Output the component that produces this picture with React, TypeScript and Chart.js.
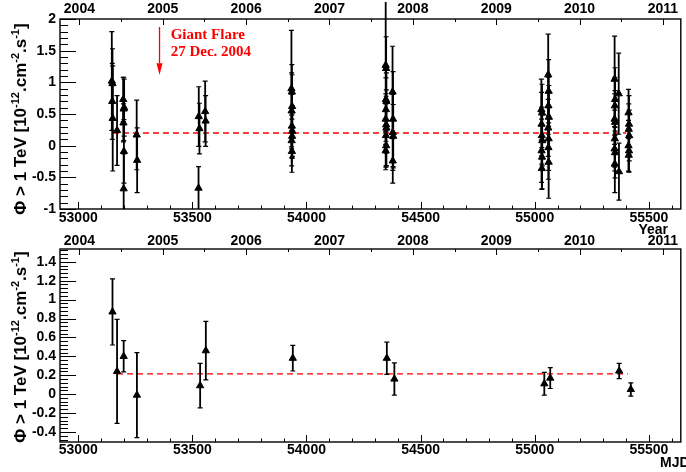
import React, { useEffect, useRef } from "react";
import { Chart, registerables } from "chart.js";

Chart.register(...registerables);

const SANS = '"Liberation Sans", Arial, Helvetica, sans-serif';
const SERIF = '"Liberation Serif", "Times New Roman", serif';

// ---------- upper panel: run-by-run flux ----------
const runMJD = [
  53147, 53150, 53149, 53151,
  53170,
  53197, 53199, 53201, 53198, 53200, 53199,
  53256, 53258,
  53528, 53531, 53527,
  53556, 53558,
  53934, 53936, 53937, 53935, 53936, 53938, 53937, 53935, 53936,
  54347, 54349, 54348, 54350, 54348, 54347, 54349, 54350, 54348, 54349, 54347,
  54377, 54379, 54378, 54380, 54378,
  55029, 55032, 55030, 55031, 55033, 55030, 55032, 55031,
  55059, 55061, 55060, 55062, 55059, 55061, 55060, 55061,
  55350, 55352, 55351, 55350, 55352, 55351, 55350, 55352, 55351,
  55368, 55369,
  55411, 55413, 55412, 55414, 55411, 55413, 55412,
];
const runFlux = [
  1.02, 0.98, 0.70, 0.43,
  0.24,
  0.73, 0.58, 0.60, 0.36, -0.09, -0.68,
  0.17, -0.23,
  0.46, 0.27, -0.67,
  0.54, 0.39,
  0.90, 0.85, 0.62, 0.55, 0.31, 0.23, 0.15, 0.08, -0.09,
  1.27, 1.22, 0.73, 0.70, 0.57, 0.42, 0.33, 0.28, 0.16, 0.0, -0.08,
  0.85, 0.42, 0.21, 0.15, -0.24,
  0.57, 0.52, 0.34, 0.16, 0.08, -0.08, -0.18, -0.36,
  1.12, 0.86, 0.63, 0.45, 0.28, 0.11, -0.03, -0.26,
  1.05, 0.73, 0.63, 0.42, 0.37, 0.11, -0.05, -0.11, -0.29,
  0.82, -0.41,
  0.52, 0.34, 0.26, 0.16, 0.0, -0.08, -0.15,
];
const runErr = [
  0.78, 0.55, 0.60, 0.83,
  0.55,
  0.35, 0.50, 0.45, 0.30, 0.50, 0.55,
  0.55, 0.51,
  0.47, 0.40, 0.34,
  0.48, 0.40,
  0.92, 0.43, 0.50, 0.60, 0.50, 0.40, 0.35, 0.40, 0.33,
  1.00, 0.50, 0.50, 0.45, 0.50, 0.40, 0.45, 0.60, 0.50, 0.32, 0.30,
  0.72, 0.75, 0.60, 0.50, 0.35,
  0.48, 0.45, 0.50, 0.45, 0.40, 0.50, 0.50, 0.33,
  0.64, 0.50, 0.45, 0.50, 0.45, 0.50, 0.50, 0.57,
  0.68, 0.50, 0.45, 0.40, 0.50, 0.45, 0.35, 0.40, 0.45,
  0.64, 0.45,
  0.37, 0.45, 0.40, 0.40, 0.40, 0.34, 0.26,
];

// ---------- lower panel: period-averaged flux ----------
const periodMJD = [53150, 53170, 53199, 53257, 53534, 53559, 53940, 54352, 54385, 55042, 55068, 55370, 55421];
const periodFlux = [0.87, 0.24, 0.40, -0.01, 0.09, 0.46, 0.38, 0.38, 0.16, 0.11, 0.17, 0.245, 0.05];
const periodErr = [0.35, 0.55, 0.165, 0.45, 0.235, 0.31, 0.135, 0.17, 0.17, 0.12, 0.11, 0.08, 0.07];

// mean flux levels (dashed red lines)
const runMean = 0.2;
const runMeanSpan = [53152, 55401];
const periodMean = 0.215;
const periodMeanSpan = [53170, 55408];

// axes
const mjdMin = 52920;
const mjdMax = 55640;
const mjdLabelStep = 500;
const mjdMinorStep = 100;
const mjdOf2004 = 53005;
const daysPerYear = 365.25;
const yearOf = (mjd: number) => 2004 + (mjd - mjdOf2004) / daysPerYear;

// annotation
const flareArrowMJD = 53356;
const flareTextMJD = 53405;
const flareArrowTop = 1.874;
const flareArrowHead = 1.3;
const flareArrowTip = 1.116;
const flareTextY = [1.747, 1.484];
const flareLines = ["Giant Flare", "27 Dec. 2004"];

const yTitleParts: [string, boolean][] = [
  ["Φ > 1 TeV [10", false],
  ["-12", true],
  [".cm", false],
  ["-2", true],
  [".s", false],
  ["-1", true],
  ["]", false],
];

function drawTicks(ctx: any, scale: any, a: any, major: number, minor: number, majLen: number, minLen: number, side: string) {
  const start = Math.ceil((scale.min - 1e-9) / minor);
  const end = Math.floor((scale.max + 1e-9) / minor);
  for (let k = start; k <= end; k++) {
    const v = k * minor;
    const isMajor = Math.abs(v / major - Math.round(v / major)) < 1e-6;
    const len = isMajor ? majLen : minLen;
    const p = Math.round(scale.getPixelForValue(v)) + 0.5;
    ctx.beginPath();
    if (side === "left") {
      ctx.moveTo(a.left, p);
      ctx.lineTo(a.left + len, p);
    } else if (side === "bottom") {
      ctx.moveTo(p, a.bottom);
      ctx.lineTo(p, a.bottom - len);
    } else {
      ctx.moveTo(p, a.top);
      ctx.lineTo(p, a.top + len);
    }
    ctx.stroke();
  }
}

function drawYTitle(ctx: any, cx: number, cy: number) {
  ctx.save();
  ctx.translate(cx, cy);
  ctx.rotate(-Math.PI / 2);
  const big = `bold 17px ${SANS}`;
  const small = `bold 11px ${SANS}`;
  let total = 0;
  for (const [t, sup] of yTitleParts) {
    ctx.font = sup ? small : big;
    total += ctx.measureText(t).width;
  }
  let x = -total / 2;
  ctx.textAlign = "left";
  ctx.textBaseline = "alphabetic";
  ctx.fillStyle = "#000";
  for (const [t, sup] of yTitleParts) {
    ctx.font = sup ? small : big;
    ctx.fillText(t, x, sup ? -7 : 0);
    x += ctx.measureText(t).width;
  }
  ctx.restore();
}

function drawFlare(ctx: any, xs: any, ys: any) {
  const x = xs.getPixelForValue(flareArrowMJD);
  const yTop = ys.getPixelForValue(flareArrowTop);
  const yHead = ys.getPixelForValue(flareArrowHead);
  const yTip = ys.getPixelForValue(flareArrowTip);
  ctx.save();
  ctx.strokeStyle = "#ff0000";
  ctx.fillStyle = "#ff0000";
  ctx.lineWidth = 1.3;
  ctx.beginPath();
  ctx.moveTo(x, yTop);
  ctx.lineTo(x, yHead);
  ctx.stroke();
  ctx.beginPath();
  ctx.moveTo(x - 3, yHead);
  ctx.lineTo(x + 3, yHead);
  ctx.lineTo(x, yTip);
  ctx.closePath();
  ctx.fill();
  ctx.font = `bold 15px ${SERIF}`;
  ctx.textAlign = "left";
  ctx.textBaseline = "middle";
  const tx = xs.getPixelForValue(flareTextMJD);
  flareLines.forEach((t, i) => ctx.fillText(t, tx, ys.getPixelForValue(flareTextY[i])));
  ctx.restore();
}

function makeRootPlugin(p: any) {
  return {
    id: "rootStyle",
    afterDraw(chart: any) {
      const { ctx, chartArea: a, scales } = chart;
      ctx.save();
      ctx.strokeStyle = "#000";
      ctx.lineWidth = 1;
      drawTicks(ctx, scales.y, a, p.yMajor, p.yMinor, 16, 8, "left");
      drawTicks(ctx, scales.x, a, mjdLabelStep, mjdMinorStep, 7, 3.5, "bottom");
      drawTicks(ctx, scales.x2, a, 1, 0.5, 6, 3, "top");
      ctx.lineWidth = 1.4;
      ctx.strokeRect(a.left, a.top, a.right - a.left, a.bottom - a.top);
      drawYTitle(ctx, 26, p.titleCenterY);
      if (p.xTitle) {
        ctx.fillStyle = "#000";
        ctx.font = `bold 14px ${SANS}`;
        ctx.textAlign = p.xTitle.align;
        ctx.textBaseline = "middle";
        ctx.fillText(p.xTitle.text, p.xTitle.x, p.xTitle.y);
      }
      if (p.flare) drawFlare(ctx, scales.x, scales.y);
      ctx.restore();
    },
  };
}

function fmt(step: number) {
  return (v: any) => {
    const k = Math.round(v / step);
    return Math.abs(v - k * step) < step * 1e-4 ? String(Number((k * step).toFixed(3))) : "";
  };
}

function buildConfig(p: any): any {
  const tickFont = { family: SANS, size: 14, weight: "bold" };
  const yFont = { family: SANS, size: 14, weight: "bold" };
  const clip = { left: 2, right: 2, top: 22, bottom: 0 };
  const lo = p.mjd.map((x: number, i: number) => ({ x, y: p.flux[i] - p.err[i] }));
  const hi = p.mjd.map((x: number, i: number) => ({ x, y: p.flux[i] + p.err[i] }));
  return {
    type: "scatter",
    data: {
      datasets: [
        {
          type: "scatter",
          data: p.mjd.map((x: number, i: number) => ({ x, y: p.flux[i] })),
          pointStyle: "triangle",
          pointRadius: 4.2,
          backgroundColor: "#000",
          borderColor: "#000",
          borderWidth: 1,
          xAxisID: "x",
          yAxisID: "y",
          order: 0,
        },
        {
          type: "scatter",
          data: [...lo, ...hi],
          pointStyle: "line",
          pointRadius: 2.5,
          borderColor: "#000",
          borderWidth: 1.2,
          xAxisID: "x",
          yAxisID: "y",
          order: 1,
        },
        {
          type: "bar",
          data: p.mjd.map((x: number, i: number) => ({ x, y: [p.flux[i] - p.err[i], p.flux[i] + p.err[i]] })),
          backgroundColor: "#000",
          borderWidth: 0,
          barThickness: 1.8,
          inflateAmount: 0,
          grouped: false,
          clip,
          xAxisID: "x",
          yAxisID: "y",
          order: 2,
        },
        {
          type: "line",
          data: [
            { x: p.meanSpan[0], y: p.mean },
            { x: p.meanSpan[1], y: p.mean },
          ],
          borderColor: "#ff0000",
          borderWidth: 1.3,
          borderDash: [6, 4],
          pointRadius: 0,
          fill: false,
          xAxisID: "x",
          yAxisID: "y",
          order: 3,
        },
      ],
    },
    options: {
      responsive: false,
      animation: false,
      devicePixelRatio: 1,
      events: [],
      layout: { padding: { left: 0, top: 0, right: 686 - p.area.right, bottom: 0 } },
      plugins: { legend: { display: false }, tooltip: { enabled: false }, title: { display: false } },
      scales: {
        x: {
          type: "linear",
          display: true,
          position: "bottom",
          min: mjdMin,
          max: mjdMax,
          offset: false,
          grid: { display: false, drawTicks: false },
          border: { display: false },
          ticks: {
            stepSize: mjdMinorStep,
            includeBounds: false,
            autoSkip: false,
            maxRotation: 0,
            minRotation: 0,
            padding: p.xPad,
            color: "#000",
            font: tickFont,
            callback: fmt(mjdLabelStep),
          },
          afterFit: (s: any) => {
            s.height = p.height - p.area.bottom;
          },
        },
        x2: {
          type: "linear",
          display: true,
          position: "top",
          min: yearOf(mjdMin),
          max: yearOf(mjdMax),
          offset: false,
          grid: { display: false, drawTicks: false },
          border: { display: false },
          ticks: {
            stepSize: 1,
            includeBounds: false,
            autoSkip: false,
            maxRotation: 0,
            minRotation: 0,
            padding: p.x2Pad,
            color: "#000",
            font: tickFont,
            callback: fmt(1),
          },
          afterFit: (s: any) => {
            s.height = p.area.top;
          },
        },
        y: {
          type: "linear",
          position: "left",
          min: p.yMin,
          max: p.yMax,
          grid: { display: false, drawTicks: false },
          border: { display: false },
          ticks: {
            stepSize: p.yMajor,
            includeBounds: false,
            autoSkip: false,
            padding: 4,
            color: "#000",
            font: yFont,
            callback: fmt(p.yMajor),
          },
          afterFit: (s: any) => {
            s.width = p.area.left;
          },
        },
      },
    },
    plugins: [makeRootPlugin(p)],
  };
}

const upperPanel = {
  mjd: runMJD,
  flux: runFlux,
  err: runErr,
  mean: runMean,
  meanSpan: runMeanSpan,
  yMin: -1,
  yMax: 2,
  yMajor: 0.5,
  yMinor: 0.1,
  area: { left: 60, top: 19, right: 685, bottom: 209 },
  height: 240,
  xPad: 1,
  x2Pad: 1,
  titleCenterY: 119,
  xTitle: { text: "Year", x: 668, y: 230, align: "right" },
  flare: true,
};

const lowerPanel = {
  mjd: periodMJD,
  flux: periodFlux,
  err: periodErr,
  mean: periodMean,
  meanSpan: periodMeanSpan,
  yMin: -0.506,
  yMax: 1.535,
  yMajor: 0.2,
  yMinor: 0.04,
  area: { left: 60, top: 17, right: 685, bottom: 210 },
  height: 240,
  xPad: 0,
  x2Pad: -1,
  titleCenterY: 115,
  xTitle: { text: "MJD", x: 660, y: 231, align: "left" },
  flare: false,
};

function Panel({ spec, top }: { spec: any; top: number }) {
  const ref = useRef<HTMLCanvasElement | null>(null);
  useEffect(() => {
    if (!ref.current) return;
    const chart = new Chart(ref.current, buildConfig(spec));
    return () => chart.destroy();
  }, [spec]);
  return (
    <canvas
      ref={ref}
      width={686}
      height={spec.height}
      style={{ position: "absolute", left: 0, top, width: 686, height: spec.height }}
    />
  );
}

export default function App() {
  return (
    <div style={{ position: "fixed", left: 0, top: 0, width: 686, height: 472, background: "#fff", overflow: "hidden" }}>
      <Panel spec={upperPanel} top={0} />
      <Panel spec={lowerPanel} top={232} />
    </div>
  );
}
